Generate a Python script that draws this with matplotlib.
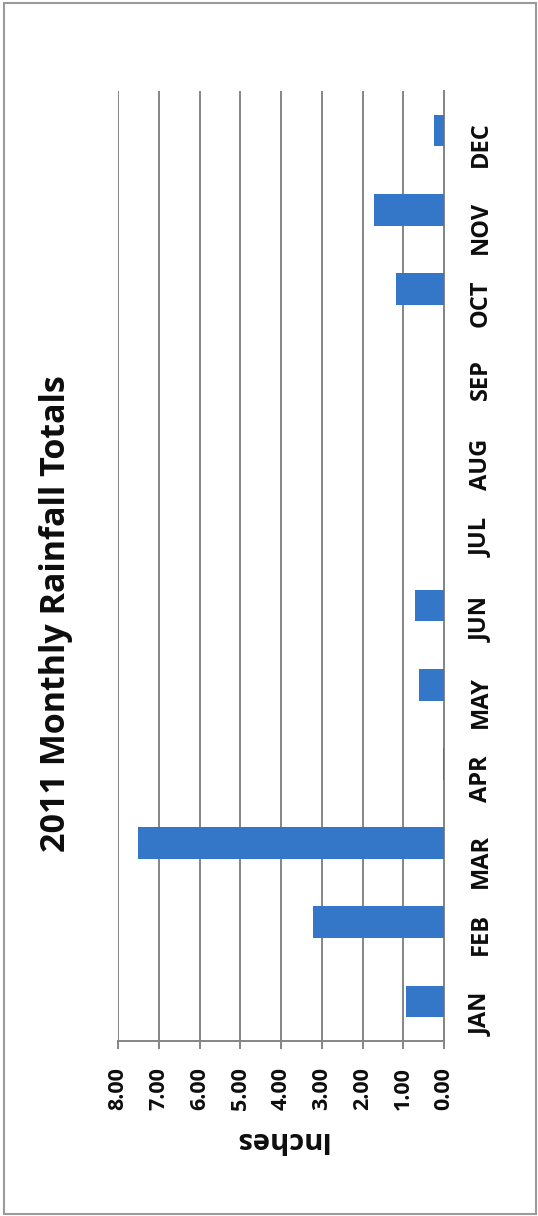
import matplotlib
matplotlib.use("Agg")
import matplotlib.pyplot as plt
from matplotlib.patches import Rectangle

# ---- data (inches) ----
MONTHS = ["JAN", "FEB", "MAR", "APR", "MAY", "JUN",
          "JUL", "AUG", "SEP", "OCT", "NOV", "DEC"]
RAIN = [0.93, 3.22, 7.51, 0.02, 0.61, 0.71,
        0.0, 0.0, 0.0, 1.17, 1.73, 0.24]
TICKS = [0, 1, 2, 3, 4, 5, 6, 7, 8]
TICK_LABELS = [f"{v:.2f}" for v in TICKS]
TITLE = "2011 Monthly Rainfall Totals"
YLABEL = "Inches"

W, H, DPI = 538, 1216, 100
BLUE, GRID, INK = "#3477c9", "#858585", "#0d0d0d"
FONT = "Open Sans"

fig = plt.figure(figsize=(W / DPI, H / DPI), dpi=DPI)
fig.patch.set_facecolor("white")

# plot area in pixel coords: x 118..444, y 91..1041 (scan is rotated 90 deg)
x0, x1, y0, y1 = 118, 444, 91, 1041
ax = fig.add_axes([x0 / W, 1 - y1 / H, (x1 - x0) / W, (y1 - y0) / H])

pos = list(range(len(MONTHS)))
ax.barh(pos, RAIN, height=0.4, color=BLUE, zorder=3)
ax.set_xlim(8, 0)
ax.set_ylim(-0.5, len(MONTHS) - 0.5)

ax.set_xticks(TICKS)
ax.set_xticklabels(TICK_LABELS, rotation=90, fontsize=15.5,
                   fontweight="bold", family=FONT, color=INK)
ax.xaxis.grid(True, color=GRID, linewidth=1.4, zorder=0)
ax.tick_params(axis="x", direction="out", length=6, width=1.4,
               color=GRID, pad=13)

ax.yaxis.tick_right()
ax.set_yticks(pos)
ax.set_yticklabels(MONTHS, rotation=90, fontsize=17, fontweight="bold",
                   family=FONT, color=INK)
ax.tick_params(axis="y", length=0, pad=18)

for side in ("top", "left"):
    ax.spines[side].set_visible(False)
for side in ("bottom", "right"):
    ax.spines[side].set_color(GRID)
    ax.spines[side].set_linewidth(1.4)

fig.text(56 / W, 1 - 614 / H, TITLE, rotation=90, ha="center", va="center",
         fontsize=24.5, fontweight="bold", family=FONT, color=INK)
fig.text(280 / W, 1 - 1140 / H, YLABEL, rotation=180, ha="center",
         va="center", fontsize=21, fontweight="bold", family=FONT, color=INK)

# outer chart-area border
fig.add_artist(Rectangle((4 / W, 1 - 1214 / H), 532 / W, 1211 / H,
                         transform=fig.transFigure, fill=False,
                         edgecolor="#9a9a9a", linewidth=1.5))

fig.savefig("out.png", dpi=DPI, facecolor="white")
